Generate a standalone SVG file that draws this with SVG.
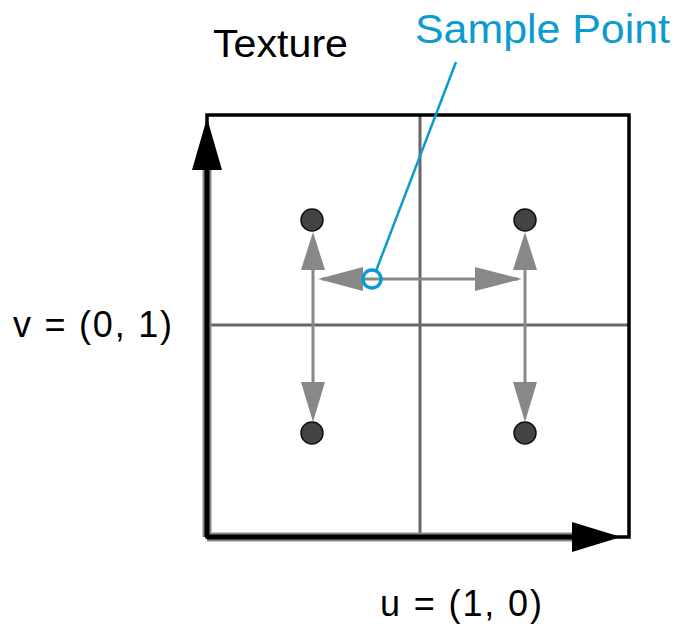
<svg xmlns="http://www.w3.org/2000/svg" width="675" height="624" viewBox="0 0 675 624">
<style>
text{font-family:"Liberation Sans",Arial,sans-serif}
.grid{stroke:#666;stroke-width:3;fill:none}
.box{stroke:#000;stroke-width:3.5;fill:none}
.gline{stroke:#888;stroke-width:3;fill:none}
.ghead{fill:#888}
.dot{fill:#444;stroke:#111;stroke-width:1.5}
.blue{stroke:#0a9bd0;fill:none}
</style>
<rect width="675" height="624" fill="#fff"/>
<g id="texture">
<path class="grid" d="M420 115V537M207 325H629"/>
<rect class="box" x="207" y="115" width="422" height="422"/>
</g>
<g id="axes">
<path d="M207 537V165M207 537H577" stroke="#888" stroke-width="9" fill="none"/>
<path d="M207 537V165M207 537H577" stroke="#000" stroke-width="5" fill="none"/>
<polygon points="207,118 192,170 222,170" fill="#000"/>
<polygon points="621,537 572,522 572,552" fill="#000"/>
</g>
<g id="connectors">
<path class="gline" d="M313 268V384M525 268V384M322 279H518"/>
<polygon class="ghead" points="313,232 301,270 325,270"/>
<polygon class="ghead" points="525,232 513,270 537,270"/>
<polygon class="ghead" points="313,422 301,382 325,382"/>
<polygon class="ghead" points="525,422 513,382 537,382"/>
<polygon class="ghead" points="318,279 363,267 363,291"/>
<polygon class="ghead" points="522,279 475,267 475,291"/>
<line class="blue" x1="456" y1="62" x2="376" y2="271" stroke-width="2.5"/>
</g>
<g id="dot-tl"><circle class="dot" cx="312" cy="220" r="11"/></g>
<g id="dot-tr"><circle class="dot" cx="525" cy="220" r="11"/></g>
<g id="dot-bl"><circle class="dot" cx="312" cy="433" r="11"/></g>
<g id="dot-br"><circle class="dot" cx="525" cy="433" r="11"/></g>
<g id="sample"><circle class="blue" cx="372" cy="279" r="9" stroke-width="3.5"/></g>
<g id="labels">
<text x="213" y="57" font-size="39" textLength="135" lengthAdjust="spacingAndGlyphs" fill="#000">Texture</text>
<text x="415" y="43" font-size="41" textLength="255" lengthAdjust="spacingAndGlyphs" fill="#0a9bd0">Sample Point</text>
<text x="13" y="337" font-size="36" textLength="159" fill="#000">v = (0, 1)</text>
<text x="380" y="616" font-size="36" textLength="162" fill="#000">u = (1, 0)</text>
</g>
</svg>
